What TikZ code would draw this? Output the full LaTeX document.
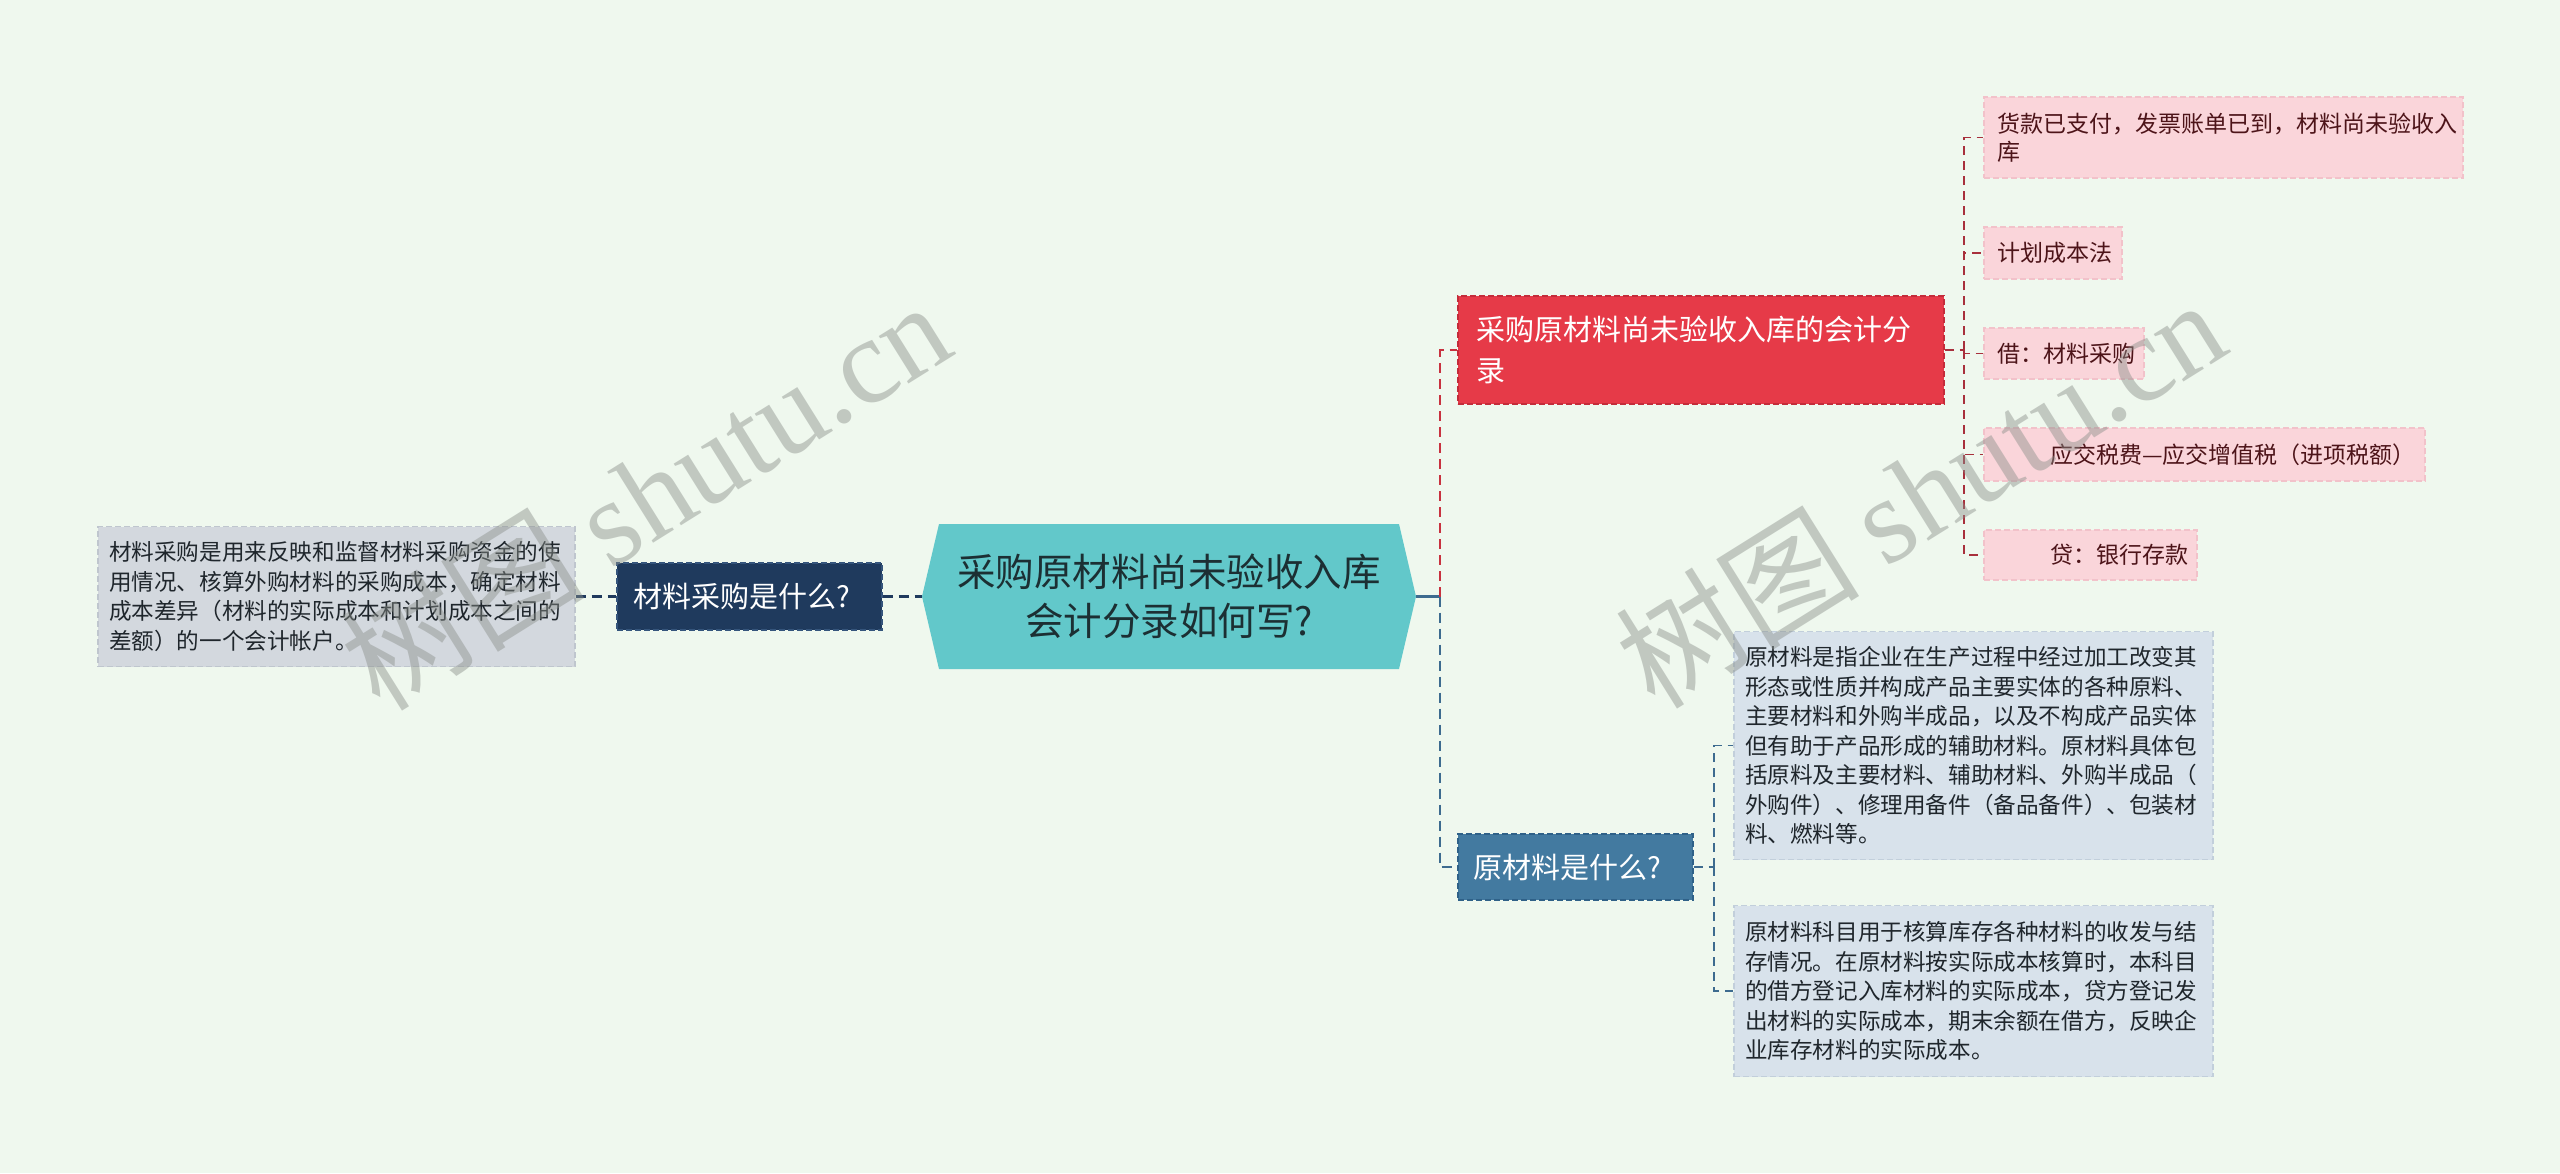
\documentclass[tikz,border=0pt]{standalone}
\usepackage{fontspec}
\setmainfont{Noto Sans CJK SC}
\newfontfamily\wmserif{Liberation Serif}
\definecolor{bg}{HTML}{EFF8EE}
\definecolor{ctrf}{HTML}{62C8CA}
\definecolor{ctrt}{HTML}{1C2F33}
\definecolor{navyf}{HTML}{1F3A5D}
\definecolor{navyb}{HTML}{35557C}
\definecolor{redf}{HTML}{E63A48}
\definecolor{redb}{HTML}{C42C3A}
\definecolor{bluef}{HTML}{437AA0}
\definecolor{blueb}{HTML}{2F6188}
\definecolor{pinkf}{HTML}{FAD5DA}
\definecolor{pinkb}{HTML}{F2C2CA}
\definecolor{pinkt}{HTML}{4D1419}
\definecolor{grayf}{HTML}{D3D8DE}
\definecolor{grayb}{HTML}{BFC6CE}
\definecolor{lbluef}{HTML}{D8E2EB}
\definecolor{lblueb}{HTML}{C2CFDB}
\definecolor{darkt}{HTML}{1F262C}
\definecolor{navyc}{HTML}{1F3A5D}
\definecolor{redc}{HTML}{C8323F}
\definecolor{redlc}{HTML}{A8303C}
\definecolor{bluec}{HTML}{3D6B8F}
\definecolor{wmc}{HTML}{8A8F8A}
\tikzset{
  conn/.style={line width=2.2pt, dash pattern=on 10pt off 6pt},
  leafconn/.style={line width=1.8pt, dash pattern=on 9pt off 6pt},
  solidconn/.style={line width=2.2pt},
  leafbase/.style={rectangle, align=left, inner ysep=0pt, line width=1.3pt, dash pattern=on 6pt off 3pt},
  pinkleaf/.style={leafbase, draw=pinkb, fill=pinkf, text=pinkt, inner xsep=13pt, font=\fontsize{23pt}{28pt}\selectfont},
  grayleaf/.style={leafbase, draw=grayb, fill=grayf, text=darkt, inner xsep=11pt, font=\fontsize{22.6pt}{29.5pt}\selectfont},
  blueleaf/.style={leafbase, draw=lblueb, fill=lbluef, text=darkt, inner xsep=11pt, font=\fontsize{22.6pt}{29.5pt}\selectfont},
  mainnode/.style={rectangle, align=left, inner ysep=0pt, line width=1.4pt, dash pattern=on 6pt off 3pt, text=white},
  wm/.style={text=wmc, opacity=0.45, rotate=32, font=\fontsize{122pt}{122pt}\selectfont},
}
\begin{document}
\begin{tikzpicture}[x=1pt,y=-1pt]
\useasboundingbox (0,0) rectangle (2560,1173);
\fill[bg] (0,0) rectangle (2560,1173);

% centre node
\fill[ctrf] (922,596.5) -- (939,524) -- (1399,524) -- (1416,596.5) -- (1399,669) -- (939,669) -- cycle;
\node[rectangle, minimum width=494pt, minimum height=145pt, inner sep=0pt, align=center, text=ctrt,
      font=\fontsize{38.5pt}{49pt}\selectfont] (ctr) at (1169,596.5) {采购原材料尚未验收入库\\会计分录如何写?};

% left side
\node[mainnode, draw=navyb, fill=navyf, minimum width=265pt, minimum height=67pt, inner xsep=16pt, text width=233pt,
      font=\fontsize{29pt}{36pt}\selectfont] (lq) at (749.5,596.5) {材料采购是什么?};
\node[grayleaf, minimum width=477pt, minimum height=140pt, text width=455pt] (lbox) at (336.5,596.5)
  {材料采购是用来反映和监督材料采购资金的使\\用情况、核算外购材料的采购成本，确定材料\\成本差异（材料的实际成本和计划成本之间的\\差额）的一个会计帐户。};

% right main nodes
\node[mainnode, draw=redb, fill=redf, minimum width=486pt, minimum height=108pt, inner xsep=18pt, text width=450pt,
      font=\fontsize{29pt}{41pt}\selectfont] (red) at (1701,350) {采购原材料尚未验收入库的会计分\\录};
\node[mainnode, draw=blueb, fill=bluef, minimum width=235pt, minimum height=66pt, inner xsep=15pt, text width=205pt,
      font=\fontsize{29pt}{36pt}\selectfont] (blue) at (1575.5,867) {原材料是什么?};

% pink leaves
\node[pinkleaf, minimum width=479pt, minimum height=81pt, text width=453pt] (p1) at (2223.5,137.5)
  {货款已支付，发票账单已到，材料尚未验收入\\库};
\node[pinkleaf, minimum width=138pt, minimum height=52pt, text width=112pt] (p2) at (2053,253) {计划成本法};
\node[pinkleaf, minimum width=160pt, minimum height=51pt, text width=134pt] (p3) at (2064,353.5) {借：材料采购};
\node[pinkleaf, minimum width=441pt, minimum height=53pt, text width=415pt] (p4) at (2204.5,454.5)
  {\mbox{\hspace*{53pt}应交税费—应交增值税（进项税额）}};
\node[pinkleaf, minimum width=213pt, minimum height=50pt, text width=187pt] (p5) at (2090.5,555)
  {\mbox{\hspace*{53pt}贷：银行存款}};

% blue leaves
\node[blueleaf, minimum width=479pt, minimum height=228pt, text width=457pt] (b1) at (1973.5,745.5)
  {原材料是指企业在生产过程中经过加工改变其\\形态或性质并构成产品主要实体的各种原料、\\主要材料和外购半成品，以及不构成产品实体\\但有助于产品形成的辅助材料。原材料具体包\\括原料及主要材料、辅助材料、外购半成品（\\外购件）、修理用备件（备品备件）、包装材\\料、燃料等。};
\node[blueleaf, minimum width=479pt, minimum height=171pt, text width=457pt] (b2) at (1973.5,991)
  {原材料科目用于核算库存各种材料的收发与结\\存情况。在原材料按实际成本核算时，本科目\\的借方登记入库材料的实际成本，贷方登记发\\出材料的实际成本，期末余额在借方，反映企\\业库存材料的实际成本。};

% junctions
\coordinate (j1) at (1440,596.5);
\coordinate (j2) at (1964,350);
\coordinate (j3) at (1714,867);

% connectors
\draw[conn, navyc] (lbox.east) -- (lq.west);
\draw[conn, navyc] (lq.east) -- (ctr.west);
\draw[solidconn, bluec] (ctr.east) -- (j1);
\draw[conn, redc] (j1) |- (red.west);
\draw[conn, bluec] (j1) |- (blue.west);
\draw[leafconn, redlc] (red.east) -- (j2);
\foreach \n in {p1,p2,p3,p4,p5} \draw[leafconn, redlc] (j2) |- (\n.west);
\draw[leafconn, bluec] (blue.east) -- (j3);
\foreach \n in {b1,b2} \draw[leafconn, bluec] (j3) |- (\n.west);

% watermarks
\node[wm] (wm1) at (645,494) {树图 {\wmserif shutu.cn}};
\node[wm] (wm2) at (1920,492) {树图 {\wmserif shutu.cn}};
\end{tikzpicture}
\end{document}
